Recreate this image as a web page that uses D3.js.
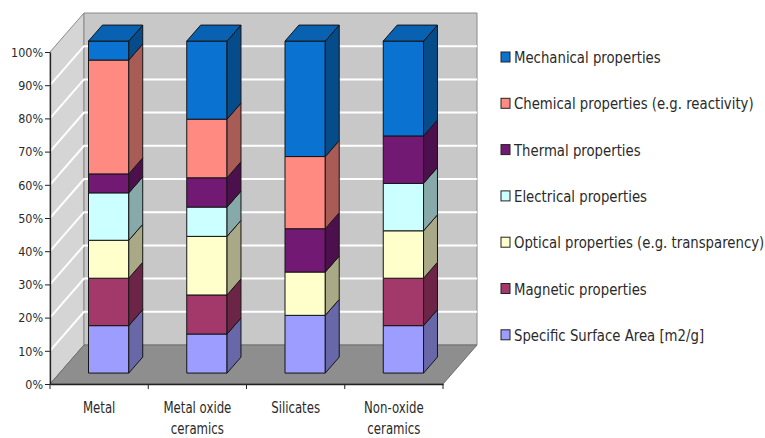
<!DOCTYPE html>
<html>
<head>
<meta charset="utf-8">
<script src="https://cdn.jsdelivr.net/npm/d3@7"></script>
<style>
  html, body { margin: 0; padding: 0; background: #ffffff; }
  svg { display: block; }
  text { font-family: "DejaVu Sans", Verdana, sans-serif; fill: #2a2a2a; }
</style>
</head>
<body>
<svg id="chart" width="765" height="438"></svg>
<script>
// ---- data -------------------------------------------------------------
const categories = ["Metal", "Metal oxide\nceramics", "Silicates", "Non-oxide\nceramics"];

// number of studies per property, per material class (stacked to 100%)
const surfaceArea = [5, 4, 4, 1];
const magnetic    = [5, 4, 0, 1];
const optical     = [4, 6, 3, 1];
const electrical  = [5, 3, 0, 1];
const thermal     = [2, 3, 3, 1];
const chemical    = [12, 6, 5, 0];
const mechanical  = [2, 8, 8, 2];

// stacking order, bottom to top
const seriesNames = [
  "Specific Surface Area [m2/g]",
  "Magnetic properties",
  "Optical properties (e.g. transparency)",
  "Electrical properties",
  "Thermal properties",
  "Chemical properties (e.g. reactivity)",
  "Mechanical properties"
];
const seriesValues = [surfaceArea, magnetic, optical, electrical, thermal, chemical, mechanical];
const seriesColors = ["#9d9dff", "#a3386b", "#ffffcc", "#ccffff", "#721a73", "#ff8a82", "#0a72d0"];

const yTicks = [0, 0.1, 0.2, 0.3, 0.4, 0.5, 0.6, 0.7, 0.8, 0.9, 1];

// ---- layout -----------------------------------------------------------
const svg = d3.select("#chart");

const x = d3.scaleBand().domain(categories).range([50, 443]);
const y = d3.scaleLinear().domain([0, 1]).range([384, 52]);

// oblique depth vector of the 3-D box
const depth = { dx: 34, dy: -39 };
const barFront = 0.28, barBack = 0.69;   // depth fractions occupied by the bars
const barWidthFrac = 0.41;

const P = (px, py, f) => [px + depth.dx * f, py + depth.dy * f];
const poly = pts => pts.map(p => p.join(",")).join(" ");

const x0 = x.range()[0], x1 = x.range()[1];

// ---- walls & floor ----------------------------------------------------
const box = svg.append("g");
box.append("polygon")   // side wall
  .attr("points", poly([P(x0, y(0), 0), P(x0, y(0), 1), P(x0, y(1), 1), P(x0, y(1), 0)]))
  .attr("fill", "#d5d5d5").attr("stroke", "#8a8a8a").attr("stroke-width", 1);
box.append("polygon")   // back wall
  .attr("points", poly([P(x0, y(0), 1), P(x1, y(0), 1), P(x1, y(1), 1), P(x0, y(1), 1)]))
  .attr("fill", "#c8c8c8").attr("stroke", "#8a8a8a").attr("stroke-width", 1);
box.append("polygon")   // floor
  .attr("points", poly([P(x0, y(0), 0), P(x1, y(0), 0), P(x1, y(0), 1), P(x0, y(0), 1)]))
  .attr("fill", "#8e8e8e").attr("stroke", "#6e6e6e").attr("stroke-width", 1);

// gridlines on side and back walls
box.selectAll("polyline.grid")
  .data(yTicks.filter(t => t > 0 && t < 1))
  .join("polyline")
  .attr("class", "grid")
  .attr("points", t => poly([P(x0, y(t), 0), P(x0, y(t), 1), P(x1, y(t), 1)]))
  .attr("fill", "none")
  .attr("stroke", "#ffffff")
  .attr("stroke-width", 2);

// ---- bars -------------------------------------------------------------
const rows = categories.map((c, i) => {
  const r = { category: c };
  seriesNames.forEach((s, k) => { r[s] = seriesValues[k][i]; });
  return r;
});
const stacked = d3.stack().keys(seriesNames).offset(d3.stackOffsetExpand)(rows);

const bars = svg.append("g");
categories.forEach((c, ci) => {
  const bw = x.bandwidth() * barWidthFrac;
  const xl = x(c) + (x.bandwidth() - bw) / 2;
  const xr = xl + bw;
  const g = bars.append("g");
  const segs = stacked
    .map((layer, k) => ({ k, lo: layer[ci][0], hi: layer[ci][1] }))
    .filter(s => s.hi - s.lo > 1e-9);
  const topK = segs[segs.length - 1].k;
  segs.forEach(s => {
    const col = seriesColors[s.k];
    // front face
    g.append("polygon")
      .attr("points", poly([P(xl, y(s.lo), barFront), P(xr, y(s.lo), barFront),
                            P(xr, y(s.hi), barFront), P(xl, y(s.hi), barFront)]))
      .attr("fill", col).attr("stroke", "#151515").attr("stroke-width", 1)
      .attr("stroke-linejoin", "round");
    // right side face
    g.append("polygon")
      .attr("points", poly([P(xr, y(s.lo), barFront), P(xr, y(s.lo), barBack),
                            P(xr, y(s.hi), barBack), P(xr, y(s.hi), barFront)]))
      .attr("fill", d3.color(col).darker(1.15)).attr("stroke", "#151515").attr("stroke-width", 1)
      .attr("stroke-linejoin", "round");
    // lid on the uppermost segment
    if (s.k === topK) {
      g.append("polygon")
        .attr("points", poly([P(xl, y(s.hi), barFront), P(xr, y(s.hi), barFront),
                              P(xr, y(s.hi), barBack), P(xl, y(s.hi), barBack)]))
        .attr("fill", d3.color(col).darker(0.45)).attr("stroke", "#151515").attr("stroke-width", 1)
        .attr("stroke-linejoin", "round");
    }
  });
});

// ---- axes -------------------------------------------------------------
// squeeze a group of texts horizontally so a reference string fits a width
function squeezeFactor(sample, size, width) {
  const t = svg.append("text").style("font-size", size + "px").text(sample);
  const w = t.node().getComputedTextLength();
  t.remove();
  return width / w;
}

const yAxis = svg.append("g")
  .attr("transform", `translate(${x0},0)`)
  .call(d3.axisLeft(y).tickValues(yTicks).tickFormat(d3.format(".0%")).tickSize(5).tickSizeOuter(0));
yAxis.select(".domain").attr("stroke", "#222").attr("stroke-width", 1.3);
yAxis.selectAll(".tick line").attr("stroke", "#222");
const sy = squeezeFactor("100%", 13, 32);
yAxis.selectAll(".tick text")
  .attr("x", null).attr("dy", null)
  .style("font-size", "13px")
  .attr("font-family", null)
  .attr("text-anchor", "end")
  .attr("dominant-baseline", "central")
  .attr("transform", `translate(-7,0) scale(${sy},1)`);

const xAxis = svg.append("g")
  .attr("transform", `translate(0,${y(0)})`)
  .call(d3.axisBottom(x).tickSize(0).tickSizeOuter(0).tickFormat(""));
xAxis.select(".domain").attr("stroke", "#222").attr("stroke-width", 1.3);
xAxis.selectAll(".tick").remove();

// tick marks on the category boundaries
const bounds = categories.map(c => x(c)).concat([x1]);
xAxis.selectAll("line.bound")
  .data(bounds)
  .join("line")
  .attr("class", "bound")
  .attr("x1", d => d).attr("x2", d => d)
  .attr("y1", 0).attr("y2", 5)
  .attr("stroke", "#222");

const sx = squeezeFactor("Metal oxide", 15.5, 68);
const catLabels = svg.append("g");
categories.forEach(c => {
  const lines = c.split("\n");
  const g = catLabels.append("g")
    .attr("transform", `translate(${x(c) + x.bandwidth() / 2},0) scale(${sx},1)`);
  g.selectAll("text")
    .data(lines)
    .join("text")
    .attr("x", 0)
    .attr("y", (d, i) => 413 + i * 21)
    .attr("text-anchor", "middle")
    .style("font-size", "15.5px")
    .text(d => d);
});

// ---- legend -----------------------------------------------------------
const sl = squeezeFactor("Chemical properties (e.g. reactivity)", 16, 240);
const legendOrder = d3.range(seriesNames.length).reverse();
const legend = svg.append("g").attr("transform", "translate(501,57)");
const item = legend.selectAll("g.item")
  .data(legendOrder)
  .join("g")
  .attr("class", "item")
  .attr("transform", (d, i) => `translate(0,${i * 46.3})`);
item.append("rect")
  .attr("x", 0).attr("y", -5)
  .attr("width", 9).attr("height", 10)
  .attr("fill", k => seriesColors[k])
  .attr("stroke", "#222").attr("stroke-width", 1);
item.append("text")
  .attr("transform", `translate(13,0) scale(${sl},1)`)
  .attr("y", 6)
  .style("font-size", "16px")
  .text(k => seriesNames[k]);
</script>
</body>
</html>
